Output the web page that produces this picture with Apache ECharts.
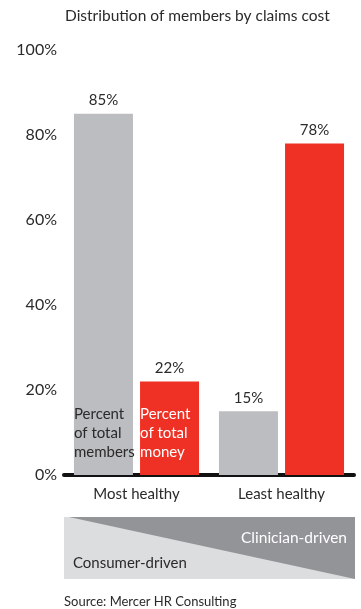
<!DOCTYPE html>
<html><head><meta charset="utf-8">
<script src="https://cdn.jsdelivr.net/npm/echarts@6/dist/echarts.min.js"></script>
<style>html,body{margin:0;padding:0;background:#fff}#c{width:361px;height:609px}</style>
</head><body><div id="c"></div>
<script>
const categories = ['Most healthy', 'Least healthy'];
const members = [85, 15];
const money = [22, 78];
const yTicks = [0, 20, 40, 60, 80, 100];

const FONT = 'Lato';
const GRAY = '#bcbdc0', RED = '#ee3124', TXT = '#2a2a2a';
const chart = echarts.init(document.getElementById('c'), null, {renderer: 'canvas'});
const gridLeft = 64, gridRight = 7, gridTop = 50, gridBottom = 134;
const bandTop = 517, bandH = 62, bandL = gridLeft, bandR = 355;

const innerLabel = (txt, color) => ({
  show: true, position: 'insideBottomLeft', distance: 0, offset: [0, -13],
  formatter: txt, color: color, fontFamily: FONT, fontSize: 15, lineHeight: 19, align: 'left'
});
const topLabel = (arr) => ({
  show: true, position: 'top', distance: 6, color: TXT, fontFamily: FONT, fontSize: 15,
  formatter: p => arr[p.dataIndex] + '%'
});

chart.setOption({
  animation: false,
  textStyle: {fontFamily: FONT},
  title: {text: 'Distribution of members by claims cost', left: 60, top: 3,
    textStyle: {fontFamily: FONT, fontSize: 15.5, fontWeight: 'normal', color: TXT}},
  grid: {left: gridLeft, right: gridRight, top: gridTop, bottom: gridBottom},
  xAxis: {type: 'category', data: categories,
    axisLine: {lineStyle: {color: '#111', width: 4}}, axisTick: {show: false},
    axisLabel: {color: TXT, fontFamily: FONT, fontSize: 15, margin: 12}},
  yAxis: {type: 'value', min: yTicks[0], max: yTicks[yTicks.length - 1], interval: 20,
    splitLine: {show: false}, axisLine: {show: false}, axisTick: {show: false},
    axisLabel: {color: TXT, fontFamily: FONT, fontSize: 16, margin: 7, formatter: '{value}%'}},
  series: [
    {type: 'bar', stack: 'm', barWidth: 59, barGap: '12%', itemStyle: {color: GRAY},
      data: members.map((v, i) => i === 0 ? {value: v, label: innerLabel('Percent\nof total\nmembers', TXT)} : v)},
    {type: 'bar', stack: 'm', barWidth: 59, itemStyle: {color: GRAY},
      data: members.map(() => 0), label: topLabel(members)},
    {type: 'bar', stack: 'r', barWidth: 59, itemStyle: {color: RED},
      data: money.map((v, i) => i === 0 ? {value: v, label: innerLabel('Percent\nof total\nmoney', '#fff')} : v)},
    {type: 'bar', stack: 'r', barWidth: 59, itemStyle: {color: RED},
      data: money.map(() => 0), label: topLabel(money)}
  ],
  graphic: [
    {type: 'rect', shape: {x: bandL, y: bandTop, width: bandR - bandL, height: bandH}, style: {fill: '#dcdddf'}},
    {type: 'polygon', shape: {points: [[bandL + 5, bandTop], [bandR, bandTop], [bandR, bandTop + bandH]]}, style: {fill: '#929497'}},
    {type: 'text', x: bandR - 8, y: bandTop + 21, style: {text: 'Clinician-driven', fill: '#fff', font: '15.5px ' + FONT, textAlign: 'right', textVerticalAlign: 'middle'}},
    {type: 'text', x: bandL + 9, y: bandTop + 46, style: {text: 'Consumer-driven', fill: TXT, font: '15px ' + FONT, textAlign: 'left', textVerticalAlign: 'middle'}},
    {type: 'text', x: 64, y: 602, style: {text: 'Source: Mercer HR Consulting', fill: TXT, font: '13px ' + FONT, textAlign: 'left', textVerticalAlign: 'middle'}}
  ]
});
</script></body></html>
